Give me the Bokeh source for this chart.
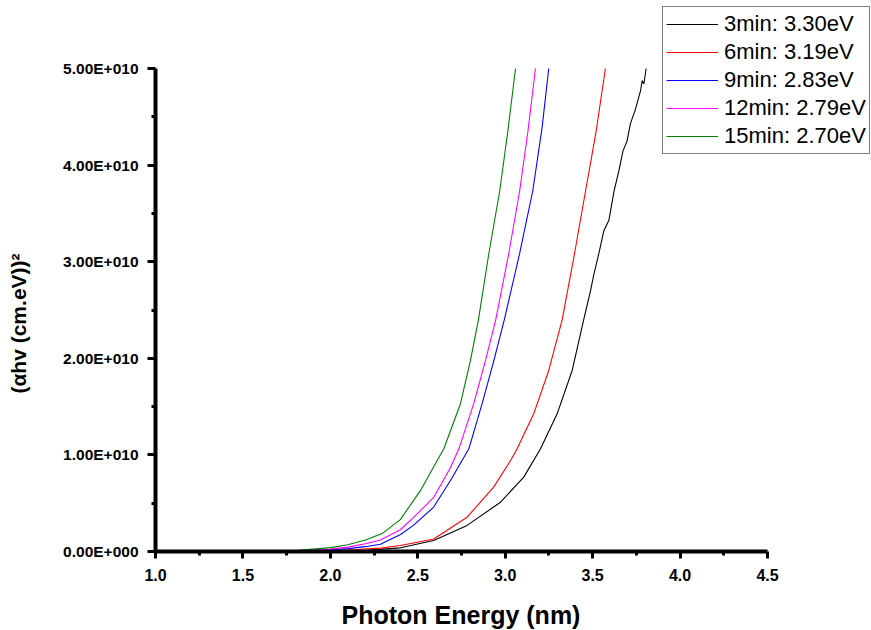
import math
from bokeh.plotting import figure
from bokeh.models import (Range1d, FixedTicker, NumeralTickFormatter, CustomJSTickFormatter,
                          Legend, LegendItem, Label)
from bokeh.embed import file_html
from bokeh.resources import INLINE

# ---- data (y in units of 1e10) ----
E10 = 1e10
x_3min = [1.30, 1.80, 2.00, 2.20, 2.401, 2.591, 2.782, 2.973, 3.106, 3.202, 3.297, 3.383, 3.449, 3.488, 3.507,
          3.535, 3.564, 3.593, 3.623, 3.65, 3.674, 3.697, 3.716, 3.745, 3.774, 3.783, 3.793, 3.806]
y_3min = [0.0, 0.0, 0.003, 0.012, 0.038, 0.114, 0.27, 0.51, 0.77, 1.063, 1.425, 1.874, 2.40, 2.70, 2.87,
          3.08, 3.32, 3.43, 3.737, 3.94, 4.15, 4.25, 4.43, 4.58, 4.77, 4.876, 4.84, 5.0]

x_6min = [1.30, 1.80, 2.00, 2.15, 2.286, 2.401, 2.591, 2.782, 2.934, 3.03, 3.068, 3.163, 3.249, 3.326, 3.396, 3.46, 3.52, 3.573]
y_6min = [0.0, 0.002, 0.008, 0.02, 0.035, 0.062, 0.13, 0.355, 0.666, 0.94, 1.063, 1.425, 1.874, 2.40, 3.08, 3.737, 4.35, 5.0]

x_9min = [1.30, 1.60, 1.80, 2.00, 2.10, 2.20, 2.286, 2.401, 2.475, 2.591, 2.687, 2.792, 2.868, 2.935, 2.995, 3.082, 3.158, 3.211, 3.249]
y_9min = [0.0, 0.002, 0.006, 0.018, 0.03, 0.05, 0.075, 0.176, 0.27, 0.46, 0.735, 1.063, 1.53, 1.977, 2.40, 3.08, 3.737, 4.39, 5.0]

x_12min = [1.30, 1.60, 1.80, 2.00, 2.10, 2.20, 2.286, 2.40, 2.475, 2.591, 2.687, 2.735, 2.82, 2.887, 2.946, 3.02, 3.083, 3.13, 3.173]
y_12min = [0.0, 0.003, 0.008, 0.025, 0.045, 0.08, 0.12, 0.225, 0.35, 0.56, 0.87, 1.063, 1.53, 1.977, 2.40, 3.08, 3.737, 4.35, 5.0]

x_15min = [1.30, 1.60, 1.80, 2.00, 2.10, 2.20, 2.30, 2.40, 2.515, 2.61, 2.649, 2.744, 2.801, 2.847, 2.906, 2.969, 3.015, 3.059]
y_15min = [0.0, 0.005, 0.01, 0.04, 0.07, 0.12, 0.19, 0.33, 0.63, 0.94, 1.063, 1.53, 1.977, 2.40, 3.08, 3.737, 4.35, 5.0]

labels = ["3min: 3.30eV", "6min: 3.19eV", "9min: 2.83eV", "12min: 2.79eV", "15min: 2.70eV"]
colors = ["#000000", "#FF0000", "#0000FF", "#FF00FF", "#008000"]
series_x = [x_3min, x_6min, x_9min, x_12min, x_15min]
series_y = [y_3min, y_6min, y_9min, y_12min, y_15min]

x_ticks = [1.0, 1.5, 2.0, 2.5, 3.0, 3.5, 4.0, 4.5]
x_minor = [1.25, 1.75, 2.25, 2.75, 3.25, 3.75, 4.25]
y_ticks = [0, 1e10, 2e10, 3e10, 4e10, 5e10]
y_minor = [0.5e10, 1.5e10, 2.5e10, 3.5e10, 4.5e10]
x_lo, x_hi = 1.0, 4.5
y_lo, y_hi = 0.0, 5e10
x_title = "Photon Energy (nm)"
y_title = "(\u03b1hv (cm.eV))\u00b2"

# layout (pixels): the frame covers the whole canvas; the axes sit at fixed data positions
W, H = 871, 630
AX_L, AX_R = 155, 767     # pixel columns of x = 1.0 and x = 4.5
AX_B, AX_T = 551, 68      # pixel rows of y = 0 and y = 5e10
sx = (x_hi - x_lo) / (AX_R - AX_L)
sy = (y_hi - y_lo) / (AX_B - AX_T)
x_range = Range1d(x_lo - AX_L * sx, x_hi + (W - AX_R) * sx)
y_range = Range1d(y_lo - (H - AX_B) * sy, y_hi + AX_T * sy)

p = figure(width=W, height=H, output_backend="svg", toolbar_location=None,
           x_range=x_range, y_range=y_range, min_border=0,
           min_border_left=0, min_border_right=0, min_border_top=0, min_border_bottom=0)
p.outline_line_color = None
p.xgrid.visible = False
p.ygrid.visible = False
p.background_fill_color = "white"
p.border_fill_color = "white"

renderers = []
for xs, ys, c in zip(series_x, series_y, colors):
    r = p.line(list(xs), [v * E10 for v in ys], line_color=c, line_width=1.1)
    renderers.append(r)

FONT = "Liberation Sans"
for ax in (p.xaxis[0], p.yaxis[0]):
    ax.axis_line_width = 4
    ax.axis_line_color = "black"
    ax.major_tick_line_width = 3
    ax.minor_tick_line_width = 3
    ax.major_tick_in = 0
    ax.minor_tick_in = 0
    ax.major_label_text_font = FONT
    ax.major_label_text_font_style = "bold"
    ax.major_label_text_color = "black"

xa = p.xaxis[0]
xa.fixed_location = y_lo
xa.bounds = (x_lo, x_hi)
xa.ticker = FixedTicker(ticks=x_ticks, minor_ticks=x_minor)
xa.formatter = NumeralTickFormatter(format="0.0")
xa.major_tick_out = 7
xa.minor_tick_out = 4
xa.major_label_standoff = 10
xa.major_label_text_font_size = "16px"

ya = p.yaxis[0]
ya.fixed_location = x_lo
ya.bounds = (y_lo, y_hi)
ya.ticker = FixedTicker(ticks=y_ticks, minor_ticks=y_minor)
ya.formatter = CustomJSTickFormatter(code="""
    if (tick == 0) { return "0.00E+000"; }
    return (tick / 1e10).toFixed(2) + "E+010";
""")
ya.major_tick_out = 8
ya.minor_tick_out = 4
ya.major_label_standoff = 9
ya.major_label_text_font_size = "15.5px"

# axis titles (screen units measured from the bottom-left corner of the canvas)
p.add_layout(Label(x=460.5, y=H - 614, x_units="screen", y_units="screen", text=x_title,
                   text_align="center", text_baseline="middle",
                   text_font=FONT, text_font_style="bold", text_font_size="25px", text_color="black"))
p.add_layout(Label(x=18, y=H - 323, x_units="screen", y_units="screen", text=y_title,
                   angle=math.pi / 2, text_align="center", text_baseline="middle",
                   text_font=FONT, text_font_style="bold", text_font_size="21px", text_color="black"))

items = [LegendItem(label=l, renderers=[r]) for l, r in zip(labels, renderers)]
legend = Legend(items=items, location=(662, H - 153.5))
legend.label_text_font = FONT
legend.label_text_font_size = "22px"
legend.label_text_color = "black"
legend.border_line_color = "black"
legend.border_line_width = 1
legend.background_fill_color = "white"
legend.background_fill_alpha = 1.0
legend.padding = 3
legend.spacing = 0
legend.margin = 0
legend.glyph_width = 52
legend.glyph_height = 20
legend.label_height = 28
legend.label_standoff = 6
p.add_layout(legend, "center")

open("out.html", "w").write(file_html(p, INLINE))
